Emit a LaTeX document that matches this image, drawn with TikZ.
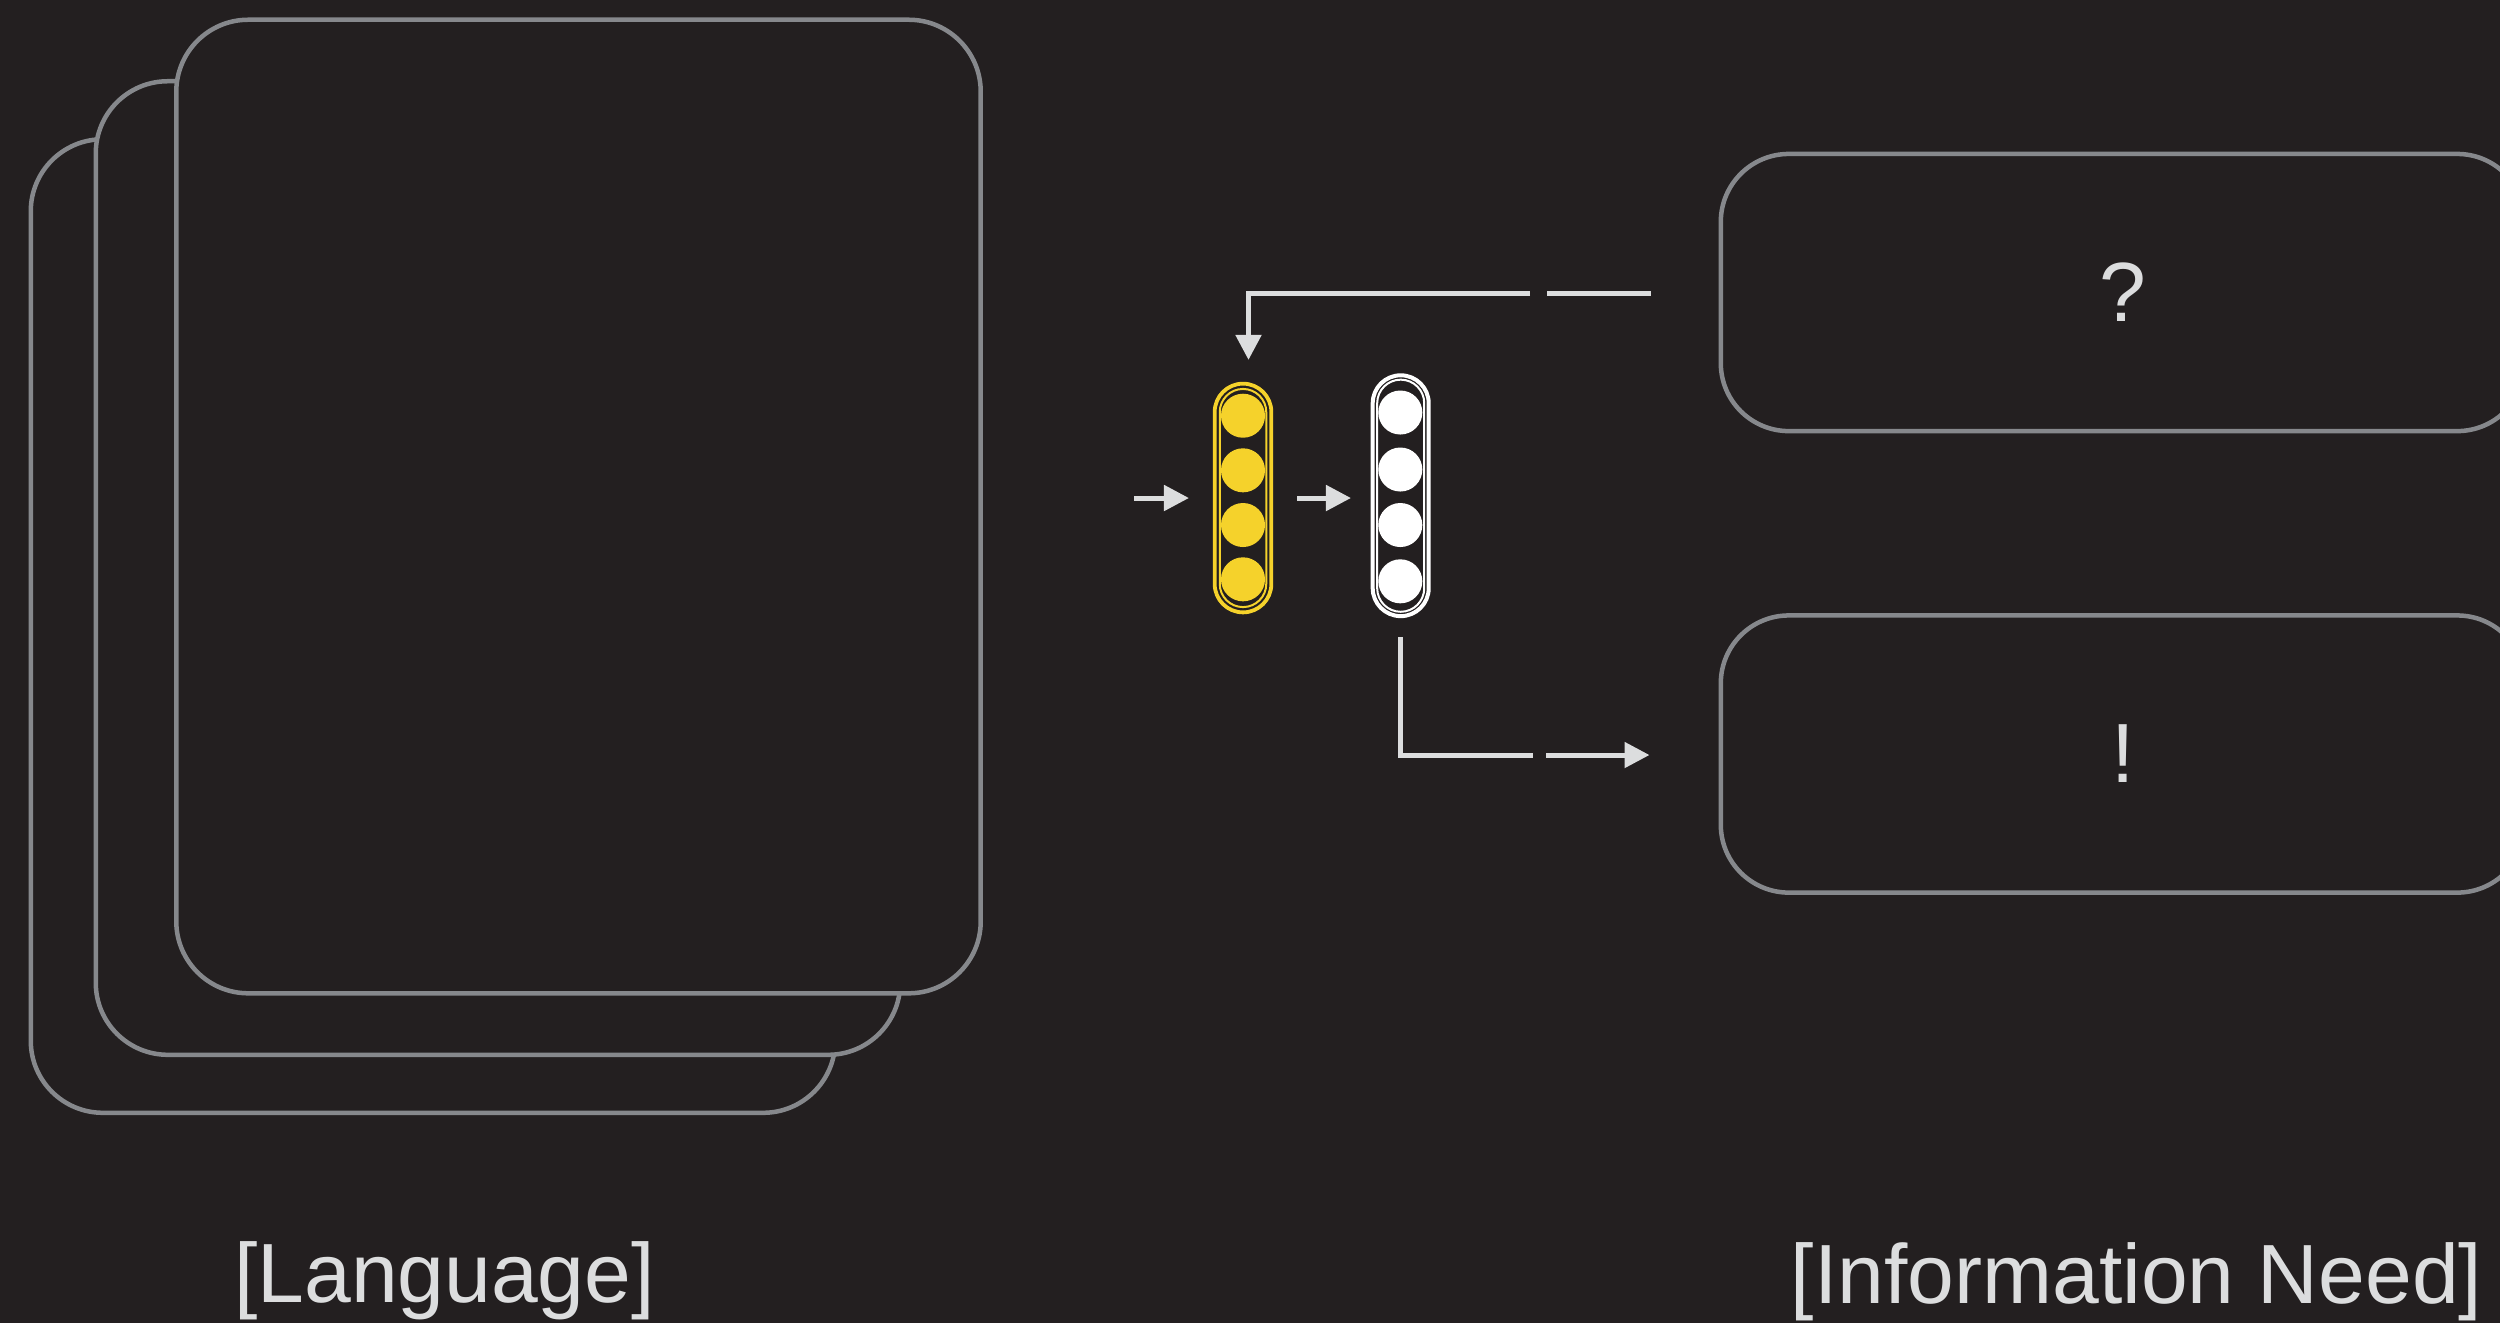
\documentclass[tikz,border=0pt]{standalone}
\usepackage{fontspec}
\setmainfont{Liberation Sans}
\usetikzlibrary{arrows.meta}
\definecolor{bg}{HTML}{231F20}
\definecolor{gry}{HTML}{86888C}
\definecolor{txt}{HTML}{DCDDDE}
\definecolor{arr}{HTML}{DCDDDE}
\definecolor{ylw}{HTML}{F5D22B}
\begin{document}
\begin{tikzpicture}[x=0.01cm,y=-0.01cm,
  page/.style={draw=gry, line width=0.045cm, fill=bg, rounded corners=0.72cm,
    minimum width=8.04cm, minimum height=9.73cm, inner sep=0pt, outer sep=0pt},
  infobox/.style={draw=gry, line width=0.045cm, rounded corners=0.68cm,
    minimum width=8.04cm, minimum height=2.77cm, inner sep=0pt, outer sep=0pt,
    text=txt, font=\fontsize{23.9}{28}\selectfont},
  captext/.style={text=txt, anchor=base, inner sep=0pt, font=\fontsize{23.9}{28}\selectfont},
  pillout/.style={draw=#1, line width=0.038cm, inner sep=0pt, outer sep=0pt},
  pillin/.style={draw=#1, line width=0.02cm, inner sep=0pt, outer sep=0pt},
  unit/.style={circle, fill=#1, minimum size=0.44cm, inner sep=0pt},
  conn/.style={draw=arr, line width=0.05cm},
  arrowtip/.style={-{Triangle[length=0.25cm,width=0.25cm]}}
]
\fill[bg] (0,0) rectangle (2500,1323);
\useasboundingbox (0,0) rectangle (2500,1323);
\clip (0,0) rectangle (2500,1323);

% stacked pages (back to front)
\node[page] (p3) at (433,626) {};
\node[page] (p2) at (498,568) {};
\node[page] (p1) at (578.5,506.5) {};

% information boxes
\node[infobox] (q) at (2123,292.5) {?};
\node[infobox] (a) at (2123,754) {!};

% yellow encoder pill
\node[pillout=ylw, minimum width=0.566cm, minimum height=2.286cm, rounded corners=0.283cm] (enc) at (1243,498) {};
\node[pillin=ylw, minimum width=0.465cm, minimum height=2.18cm, rounded corners=0.232cm] (encin) at (enc.center) {};
\node[unit=ylw] (e1) at (1243,415.7) {};
\node[unit=ylw] (e2) at (1243,470.3) {};
\node[unit=ylw] (e3) at (1243,525) {};
\node[unit=ylw] (e4) at (1243,579.3) {};

% white decoder pill
\node[pillout=white, line width=0.04cm, minimum width=0.56cm, minimum height=2.407cm, rounded corners=0.28cm] (dec) at (1400.7,495.7) {};
\node[pillin=white, minimum width=0.47cm, minimum height=2.32cm, rounded corners=0.235cm] (decin) at (dec.center) {};
\node[unit=white] (d1) at (1400.3,412.5) {};
\node[unit=white] (d2) at (1400.3,469.5) {};
\node[unit=white] (d3) at (1400.3,525) {};
\node[unit=white] (d4) at (1400.3,581.3) {};

% connector coordinates
\coordinate (inL) at (1134,498);
\coordinate (fbA1) at (1650.5,293);
\coordinate (fbA2) at (1547,293);
\coordinate (fbB) at (1530,293);
\coordinate (obA) at (1533,755);
\coordinate (obB1) at (1546,755);
\coordinate (obB2) at (1649.5,755);

% input and internal arrows
\draw[conn, arrowtip, shorten >=0.257cm] (inL) -- (enc.west);
\draw[conn, arrowtip, shorten <=0.257cm, shorten >=0.217cm] (enc.east) -- (dec.west |- enc.east);

% feedback from question box
\draw[conn] (fbA1) -- (fbA2);
\draw[conn, arrowtip, shorten >=0.237cm] (fbB) -| ([xshift=0.055cm]enc.north);

% output to answer box
\draw[conn, shorten <=0.21cm] (dec.south) |- (obA);
\draw[conn, arrowtip] (obB1) -- (obB2);

% captions
\node[captext] (lang) at (444.5,1302.7) {[Language]};
\node[captext] (need) at (2136.5,1303) {[Information Need]};
\end{tikzpicture}
\end{document}
